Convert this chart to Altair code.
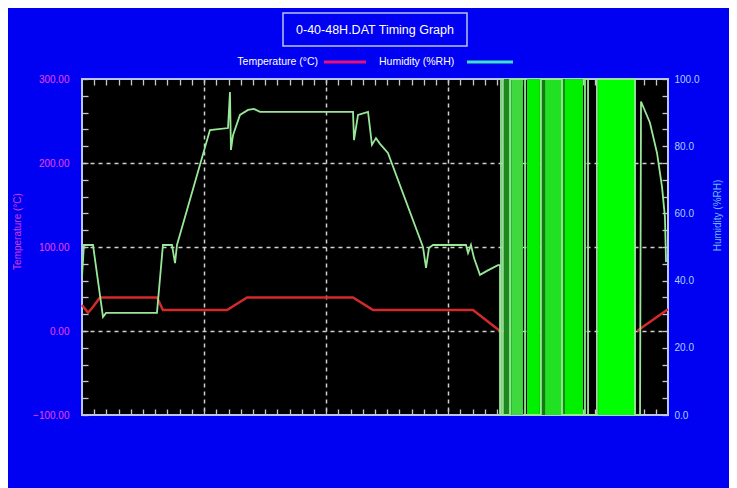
import altair as alt
import pandas as pd

# ---------------- data ----------------
title_text = "0-40-48H.DAT Timing Graph"
temp_label = "Temperature (°C)"
hum_label = "Humidity (%RH)"

# None = no temperature trace visible (hidden during the humidity drop-out)
temp_hours = [0.00, 0.16, 0.49, 0.82, 1.47, 6.14, 6.63, 11.88, 13.52, 22.20, 23.84,
              32.03, 34.24, 34.60, 40.00, 45.46, 48.00]
temp_vals = [31, 28, 22, 27, 40, 40, 25, 25, 40, 40, 25, 25, 0, 0, None, 0, 26]

hum_hours = [0.00, 0.16, 0.90, 1.72, 1.97, 6.14, 6.63, 7.37, 7.62, 7.78, 10.48,
             11.96, 12.12, 12.20, 12.37, 12.94, 13.60, 14.09, 14.58, 22.20, 22.28,
             22.61, 23.43, 23.75, 24.08, 24.41, 25.06, 27.93, 28.18, 28.42, 28.75,
             31.45, 31.62, 31.86, 32.11, 32.60, 33.17, 34.07, 34.24,
             34.24, 34.32, 34.32, 34.48, 34.48, 35.06, 35.06, 36.29, 36.29, 37.59,
             37.59, 39.32, 39.32, 41.20, 41.20, 41.45, 41.45, 42.18, 42.18, 45.30,
             45.30, 45.71, 45.79, 46.52, 47.10, 47.51, 47.75, 47.84]
hum_vals = [41.1, 50.6, 50.6, 29.2, 30.4, 30.4, 50.6, 50.6, 45.2, 50.6, 84.8,
            85.4, 96.1, 78.9, 83.3, 89.3, 90.8, 91.1, 90.2, 90.2, 81.8,
            89.3, 90.2, 80.4, 82.4, 80.7, 78.0, 50.0, 43.8, 49.7, 50.6,
            50.6, 48.2, 50.6, 46.7, 41.7, 42.9, 44.6, 44.6,
            0, 0, 100, 100, 0, 0, 100, 100, 0, 0,
            100, 100, 0, 0, 100, 100, 0, 0, 100, 100,
            0, 0, 93.3, 87.0, 78.0, 67.9, 58.9, 45.5]

# humidity sensor drop-out bands (hours)
band_start = [34.57, 35.06, 35.22, 36.45, 37.51, 37.93, 39.32, 39.56, 42.27]
band_end = [35.06, 35.22, 36.12, 37.51, 37.93, 39.32, 39.56, 41.04, 45.30]
band_shade = ["#1d8a1d", "#2fbf2f", "#3fd83f", "#00f000", "#137a13", "#22e022",
              "#1a8a1a", "#00f000", "#00ff00"]

# ---------------- frames ----------------
df_temp = pd.DataFrame({"hour": temp_hours, "temp": temp_vals})
df_hum = pd.DataFrame({"hour": hum_hours, "hum": hum_vals})
df_bands = pd.DataFrame({"start": band_start, "end": band_end, "shade": band_shade,
                         "lo": [0] * len(band_start), "hi": [100] * len(band_start)})

W, H = 586, 336
x_scale = alt.Scale(domain=[0, 48], nice=False, zero=False)
temp_scale = alt.Scale(domain=[-100, 300], nice=False, zero=False)
hum_scale = alt.Scale(domain=[0, 100], nice=False, zero=False)

FONT = "Liberation Sans"
TICK_COLOR = "#c8c8c8"
GRID_COLOR = "#d0d0d0"

tick_common = dict(labels=False, domain=False, grid=False, tickColor=TICK_COLOR,
                   tickSize=6, tickWidth=1.3, offset=-6, title=None)

# bands + vertical grid
bands = alt.Chart(df_bands).mark_rect().encode(
    x=alt.X("start:Q", scale=x_scale,
            axis=alt.Axis(orient="bottom", values=[10, 20, 30, 40], grid=True,
                          gridColor=GRID_COLOR, gridDash=[4, 4], gridWidth=1.5,
                          labels=False, ticks=False, domain=False, title=None)),
    x2="end:Q",
    y=alt.Y("lo:Q", scale=hum_scale, axis=None),
    y2="hi:Q",
    color=alt.Color("shade:N", scale=None),
)

# invisible layer carrying horizontal grid and top ticks
gridlayer = alt.Chart(df_temp).mark_point(opacity=0).encode(
    x=alt.X("hour:Q", scale=x_scale,
            axis=alt.Axis(orient="top", values=list(range(1, 48)), **tick_common)),
    y=alt.Y("temp:Q", scale=temp_scale,
            axis=alt.Axis(orient="left", values=[0, 100, 200], grid=True,
                          gridColor=GRID_COLOR, gridDash=[4, 4], gridWidth=1.5,
                          labels=False, ticks=False, domain=False, title=None)),
)

hum_line = alt.Chart(df_hum).mark_line(color="#98e898", strokeWidth=1.8).encode(
    x=alt.X("hour:Q", scale=x_scale, axis=None),
    y=alt.Y("hum:Q", scale=hum_scale,
            axis=alt.Axis(orient="right", values=list(range(0, 101, 5)),
                          labelExpr="datum.value % 20 == 0 ? format(datum.value, '.1f') : ''",
                          labelColor="#a8d0ff", labelFont=FONT, labelFontSize=10,
                          labelPadding=6, labelOverlap=False, labelFlush=False,
                          domain=False, grid=False, tickColor=TICK_COLOR, tickSize=6,
                          tickWidth=1.3, offset=-6,
                          title=hum_label, titleColor="#70b8ff", titleFont=FONT,
                          titleFontSize=10, titleFontWeight="normal", titleAngle=270,
                          titleX=60, titleY=136)),
)

temp_line = alt.Chart(df_temp).mark_line(color="#d42a2a", strokeWidth=2.5).encode(
    x=alt.X("hour:Q", scale=x_scale,
            axis=alt.Axis(orient="bottom", values=list(range(1, 48)), **tick_common)),
    y=alt.Y("temp:Q", scale=temp_scale,
            axis=alt.Axis(orient="left", values=list(range(-100, 301, 20)),
                          labelExpr="datum.value % 100 == 0 ? format(datum.value, '.2f') : ''",
                          labelColor="#f040f0", labelFont=FONT, labelFontSize=10,
                          labelPadding=13, labelOverlap=False, labelFlush=False,
                          domain=False, grid=False, tickColor=TICK_COLOR, tickSize=6,
                          tickWidth=1.3, offset=-6,
                          title=temp_label, titleColor="#d83ce0", titleFont=FONT,
                          titleFontSize=10, titleFontWeight="normal", titleAngle=270,
                          titleX=-66, titleY=152)),
)

# title box and custom legend (drawn above the plot)
one = pd.DataFrame({"t": [title_text]})
title_box = alt.Chart(one).mark_rect(fill="#0000f2", stroke="#b8c4ff", strokeWidth=1.5).encode(
    x=alt.value(201), x2=alt.value(385), y=alt.value(-66), y2=alt.value(-33))
title_txt = alt.Chart(one).mark_text(color="white", font=FONT, fontSize=12.5,
                                     align="center", baseline="middle").encode(
    text="t:N", x=alt.value(293), y=alt.value(-49.5))

leg = pd.DataFrame({"t": [temp_label]})
leg2 = pd.DataFrame({"t": [hum_label]})
leg_t1 = alt.Chart(leg).mark_text(color="white", font=FONT, fontSize=10.5,
                                  align="right", baseline="middle").encode(
    text="t:N", x=alt.value(236), y=alt.value(-17))
leg_r1 = alt.Chart(leg).mark_rule(color="#e8107a", strokeWidth=3).encode(
    x=alt.value(242), x2=alt.value(284), y=alt.value(-17))
leg_t2 = alt.Chart(leg2).mark_text(color="white", font=FONT, fontSize=10.5,
                                   align="left", baseline="middle").encode(
    text="t:N", x=alt.value(297), y=alt.value(-17))
leg_r2 = alt.Chart(leg2).mark_rule(color="#40e0c8", strokeWidth=3).encode(
    x=alt.value(385), x2=alt.value(431), y=alt.value(-17))

chart = alt.layer(
    temp_line, bands, gridlayer, hum_line,
    title_box, title_txt, leg_t1, leg_r1, leg_t2, leg_r2,
).resolve_scale(y="independent").resolve_axis(x="independent", y="independent").properties(
    width=W, height=H,
    autosize=alt.AutoSizeParams(type="none"),
    padding={"left": 74, "top": 71, "right": 61, "bottom": 73},
    background="#0000f2",
).configure(font=FONT).configure_view(fill="black", stroke="#b8c4ff", strokeWidth=2)

chart.save("out.html", embed_options={"renderer": "svg", "actions": False})
